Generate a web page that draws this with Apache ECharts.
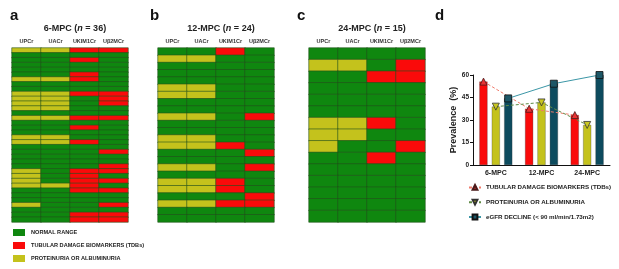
<!DOCTYPE html>
<html>
<head>
<meta charset="utf-8">
<script src="https://cdn.jsdelivr.net/npm/echarts@6/dist/echarts.min.js"></script>
<style>
  html, body { margin: 0; padding: 0; background: #fff; }
  #chart { width: 619px; height: 269px; }
</style>
</head>
<body>
<div id="chart"></div>
<script>
const font = 'Liberation Sans, Arial, sans-serif';

// columns of the heatmaps
const markers = ['UPCr', 'UACr', 'UKIM1Cr', 'Uβ2MCr'];
// 0 = normal, 1 = TDB, 2 = proteinuria/albuminuria
const mpc6 = [
  [2, 2, 1, 1], [0, 0, 0, 0], [0, 0, 1, 0], [0, 0, 0, 0], [0, 0, 0, 0], [0, 0, 1, 0],
  [2, 2, 1, 0], [0, 0, 0, 0], [0, 0, 0, 0], [2, 2, 1, 1], [2, 2, 0, 1], [2, 2, 0, 1],
  [2, 2, 0, 0], [0, 0, 0, 0], [2, 2, 1, 1], [0, 0, 0, 0], [0, 0, 1, 0], [0, 0, 0, 0],
  [2, 2, 0, 0], [2, 2, 1, 0], [0, 0, 0, 0], [0, 0, 0, 1], [0, 0, 0, 0], [0, 0, 0, 0],
  [0, 0, 0, 1], [2, 0, 1, 1], [2, 0, 1, 0], [2, 0, 1, 1], [2, 2, 1, 0], [0, 0, 1, 1],
  [0, 0, 0, 0], [0, 0, 0, 0], [2, 0, 0, 1], [0, 0, 0, 0], [0, 0, 1, 1], [0, 0, 1, 1],
];
const mpc12 = [
  [0, 0, 1, 0], [2, 2, 0, 0], [0, 0, 0, 0], [0, 0, 0, 0], [0, 0, 0, 0], [2, 2, 0, 0],
  [2, 2, 0, 0], [0, 0, 0, 0], [0, 0, 0, 0], [2, 2, 0, 1], [0, 0, 0, 0], [0, 0, 0, 0],
  [2, 2, 0, 0], [2, 2, 1, 0], [0, 0, 0, 1], [0, 0, 0, 0], [2, 2, 0, 1], [0, 0, 0, 0],
  [2, 2, 1, 0], [2, 2, 1, 0], [0, 0, 0, 1], [2, 2, 1, 1], [0, 0, 0, 0], [0, 0, 0, 0],
];
const mpc24 = [
  [0, 0, 0, 0], [2, 2, 0, 1], [0, 0, 1, 1], [0, 0, 0, 0], [0, 0, 0, 0], [0, 0, 0, 0],
  [2, 2, 1, 0], [2, 2, 0, 0], [2, 0, 0, 1], [0, 0, 1, 0], [0, 0, 0, 0], [0, 0, 0, 0],
  [0, 0, 0, 0], [0, 0, 0, 0], [0, 0, 0, 0],
];
const statusLabels = ['NORMAL RANGE', 'TUBULAR DAMAGE BIOMARKERS (TDBs)', 'PROTEINURIA OR ALBUMINURIA'];

// panel d
const periods = ['6-MPC', '12-MPC', '24-MPC'];
const tdbPrev = [55.6, 37.5, 33.3];
const protPrev = [38.9, 41.7, 26.7];
const egfrPrev = [44.4, 54.2, 60.0];
const lineNames = ['TUBULAR DAMAGE BIOMARKERS (TDBs)', 'PROTEINURIA OR ALBUMINURIA', 'eGFR DECLINE (< 90 ml/min/1.73m2)'];

const GREEN = '#0f870f', RED = '#fa0a0a', YELLOW = '#c4c21c', TEAL = '#0d4b5e';

const panels = [
  { rows: mpc6, label: '6-MPC', n: 36, left: 12 },
  { rows: mpc12, label: '12-MPC', n: 24, left: 158 },
  { rows: mpc24, label: '24-MPC', n: 15, left: 309 },
];
const gridW = 116;

const grids = [], xAxes = [], yAxes = [], series = [], titles = [];

panels.forEach((p, k) => {
  grids.push({ left: p.left, top: 48, width: gridW, height: 174 });
  xAxes.push({
    type: 'category', gridIndex: k, position: 'top', data: markers,
    axisLine: { show: false }, axisTick: { show: false }, splitLine: { show: false },
    axisLabel: { interval: 0, fontSize: 5.5, fontWeight: 'bold', color: '#333', margin: 4, fontFamily: font },
  });
  yAxes.push({
    type: 'category', gridIndex: k, inverse: true, data: p.rows.map((_, i) => i),
    show: false,
  });
  series.push({
    type: 'heatmap', xAxisIndex: k, yAxisIndex: k, silent: true,
    data: p.rows.flatMap((r, i) => r.map((v, j) => [j, i, v])),
    itemStyle: { borderColor: '#24501c', borderWidth: 0.6 },
  });
  titles.push({
    text: `{t|${p.label} (}{i|n}{t| = ${p.n})}`,
    left: p.left + gridW / 2, top: 19, textAlign: 'center',
    textStyle: {
      rich: {
        t: { fontSize: 9, fontWeight: 'bold', color: '#222', fontFamily: font },
        i: { fontSize: 9, fontWeight: 'bold', fontStyle: 'italic', color: '#222', fontFamily: font },
      },
    },
  });
});

// panel letters
[['a', 5], ['b', 145], ['c', 292], ['d', 430]].forEach(([t, x]) => {
  titles.push({
    text: t, left: x, top: 3,
    textStyle: { fontSize: 15, fontWeight: 'bold', color: '#111', fontFamily: font },
  });
});

// panel d
const dGrid = grids.length;
grids.push({ left: 473, right: 9, top: 75, bottom: 104 });
xAxes.push({
  type: 'category', gridIndex: dGrid, data: periods,
  axisLine: { lineStyle: { color: '#111', width: 1 } }, axisTick: { show: false },
  axisLabel: { fontSize: 7, fontWeight: 'bold', color: '#222', margin: 5, fontFamily: font },
});
// hidden value axis spanning the same band, to put line points on the bars
const lineX = xAxes.length;
xAxes.push({ type: 'value', gridIndex: dGrid, min: 0, max: 3, show: false });
yAxes.push({
  type: 'value', gridIndex: dGrid, min: 0, max: 60, interval: 15,
  name: 'Prevalence  (%)', nameLocation: 'middle', nameGap: 14,
  nameTextStyle: { fontSize: 9, fontWeight: 'bold', color: '#222', fontFamily: font },
  axisLine: { show: true, lineStyle: { color: '#111', width: 1 } },
  axisTick: { show: true, length: 3, lineStyle: { color: '#111' } },
  splitLine: { show: false },
  axisLabel: { fontSize: 6.5, fontWeight: 'bold', color: '#222', margin: 4, fontFamily: font },
});
const dY = yAxes.length - 1;

const barColors = [RED, YELLOW, TEAL];
[tdbPrev, protPrev, egfrPrev].forEach((vals, i) => {
  series.push({
    type: 'bar', name: 'bar' + i, xAxisIndex: dGrid, yAxisIndex: dY, silent: true,
    data: vals, barWidth: 8, barGap: '55%',
    itemStyle: { color: barColors[i], borderColor: '#333', borderWidth: 0.3 },
  });
});

const off = 0.27; // bar offset, in category units
const lineStyles = [
  { color: '#ef7b6b', type: [3, 2], width: 1 },
  { color: '#5f8a45', type: [3, 2], width: 1 },
  { color: '#3b96a6', type: 'solid', width: 1 },
];
const symbols = [
  { symbol: 'triangle', symbolRotate: 0, fill: '#e83333', stroke: '#4a1a1a' },
  { symbol: 'triangle', symbolRotate: 180, fill: '#c8c620', stroke: '#333' },
  { symbol: 'rect', symbolRotate: 0, fill: '#1d5767', stroke: '#111' },
];
[tdbPrev, protPrev, egfrPrev].forEach((vals, i) => {
  series.push({
    type: 'line', name: lineNames[i], xAxisIndex: lineX, yAxisIndex: dY, silent: true,
    data: vals.map((v, j) => [j + 0.5 + (i - 1) * off, v]),
    symbol: symbols[i].symbol, symbolRotate: symbols[i].symbolRotate, symbolSize: 7,
    itemStyle: { color: symbols[i].fill, borderColor: symbols[i].stroke, borderWidth: 0.8 },
    lineStyle: lineStyles[i], z: 3,
  });
});

const option = {
  animation: false,
  textStyle: { fontFamily: font },
  title: titles,
  grid: grids,
  xAxis: xAxes,
  yAxis: yAxes,
  visualMap: {
    type: 'piecewise', seriesIndex: [0, 1, 2], dimension: 2,
    orient: 'vertical', inverse: true, left: 13, top: 229, padding: 0,
    itemWidth: 12, itemHeight: 7, itemGap: 6, itemSymbol: 'rect', textGap: 6,
    selectedMode: false,
    pieces: [
      { value: 0, label: statusLabels[0], color: GREEN },
      { value: 1, label: statusLabels[1], color: RED },
      { value: 2, label: statusLabels[2], color: YELLOW },
    ],
    textStyle: { fontSize: 5.6, fontWeight: 'bold', color: '#222', fontFamily: font },
  },
  legend: {
    data: lineNames, orient: 'vertical', left: 468, top: 184, padding: 0,
    itemWidth: 12, itemHeight: 6, itemGap: 8, selectedMode: false,
    textStyle: { fontSize: 6.2, fontWeight: 'bold', color: '#222', fontFamily: font },
  },
  series,
};

const chart = echarts.init(document.getElementById('chart'));
chart.setOption(option);
</script>
</body>
</html>
